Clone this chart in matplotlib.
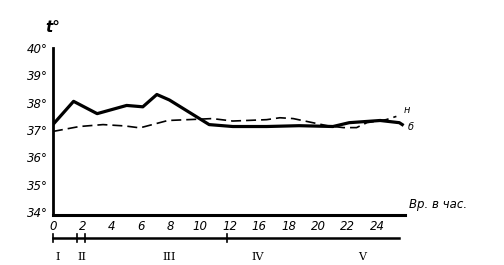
import matplotlib
matplotlib.use("Agg")
import matplotlib.pyplot as plt
import matplotlib.transforms as mtransforms

# hours on the drawn scale (the "14" tick is skipped on the original)
tick_pos = [0, 2, 4, 6, 8, 10, 12, 14, 16, 18, 20, 22]
tick_lab = ["0", "2", "4", "6", "8", "10", "12", "16", "18", "20", "22", "24"]
yticks = [34, 35, 36, 37, 38, 39, 40]

# curve "б" (solid)
x_b = [0, 1.4, 3.0, 5.0, 6.1, 7.05, 7.9, 10.6, 12.2, 14.5, 16.7, 19.0, 20.1, 22.2, 23.5, 23.7]
t_b = [37.2, 38.05, 37.6, 37.9, 37.85, 38.3, 38.1, 37.2, 37.13, 37.13, 37.16, 37.13, 37.27, 37.35, 37.27, 37.2]

# curve "н" (dashed)
x_n = [0, 1.8, 3.4, 4.9, 5.9, 7.8, 10.0, 10.8, 12.2, 14.5, 15.4, 16.3, 18.6, 19.7, 20.6, 21.3, 22.6, 23.3]
t_n = [36.95, 37.13, 37.2, 37.15, 37.08, 37.35, 37.4, 37.42, 37.33, 37.38, 37.45, 37.42, 37.16, 37.09, 37.09, 37.27, 37.38, 37.5]

# periods bar under the axis
stage_ticks = [0, 1.6, 2.2, 11.8]
stage_end = 23.5
stage_names = ["I", "II", "III", "IV", "V"]
stage_lab_x = [0.3, 2.0, 7.9, 13.9, 21.0]

fig = plt.figure(figsize=(5.04, 2.65), dpi=100)
ax = fig.add_axes([0.105, 0.189, 0.699, 0.630])

ax.plot(x_b, t_b, color="black", lw=2.3, solid_joinstyle="round")
ax.plot(x_n, t_n, color="black", lw=1.2, dashes=(6, 3))

ax.set_xlim(0, 23.9)
ax.set_ylim(33.9, 40.0)
ax.set_xticks(tick_pos)
ax.set_xticklabels(tick_lab, fontsize=8.5, style="italic")
ax.set_yticks(yticks)
ax.set_yticklabels([f"{v}°" for v in yticks], fontsize=8.5, style="italic")
ax.tick_params(length=0, pad=4)

for s in ["top", "right"]:
    ax.spines[s].set_visible(False)
ax.spines["left"].set_linewidth(2)
ax.spines["bottom"].set_linewidth(2.2)

ax.text(23.8, 37.75, "н", fontsize=7, style="italic", ha="left", va="center")
ax.text(24.1, 37.1, "б", fontsize=7, style="italic", ha="left", va="center")

ax.text(0.0, 1.12, "t°", transform=ax.transAxes, fontsize=11, style="italic",
        fontweight="bold", ha="center", va="center")
ax.text(1.01, 0.06, "Вр. в час.", transform=ax.transAxes, fontsize=8.5,
        style="italic", ha="left", va="center")

trans = mtransforms.blended_transform_factory(ax.transData, ax.transAxes)
ax.plot([0, stage_end], [-0.138, -0.138], color="black", lw=1.8,
        transform=trans, clip_on=False)
for sx in stage_ticks:
    ax.plot([sx, sx], [-0.16, -0.116], color="black", lw=1.2,
            transform=trans, clip_on=False)
for name, lx in zip(stage_names, stage_lab_x):
    ax.text(lx, -0.25, name, transform=trans, fontsize=8, family="DejaVu Serif",
            ha="center", va="center")

fig.savefig("out.png", dpi=100, facecolor="white")
